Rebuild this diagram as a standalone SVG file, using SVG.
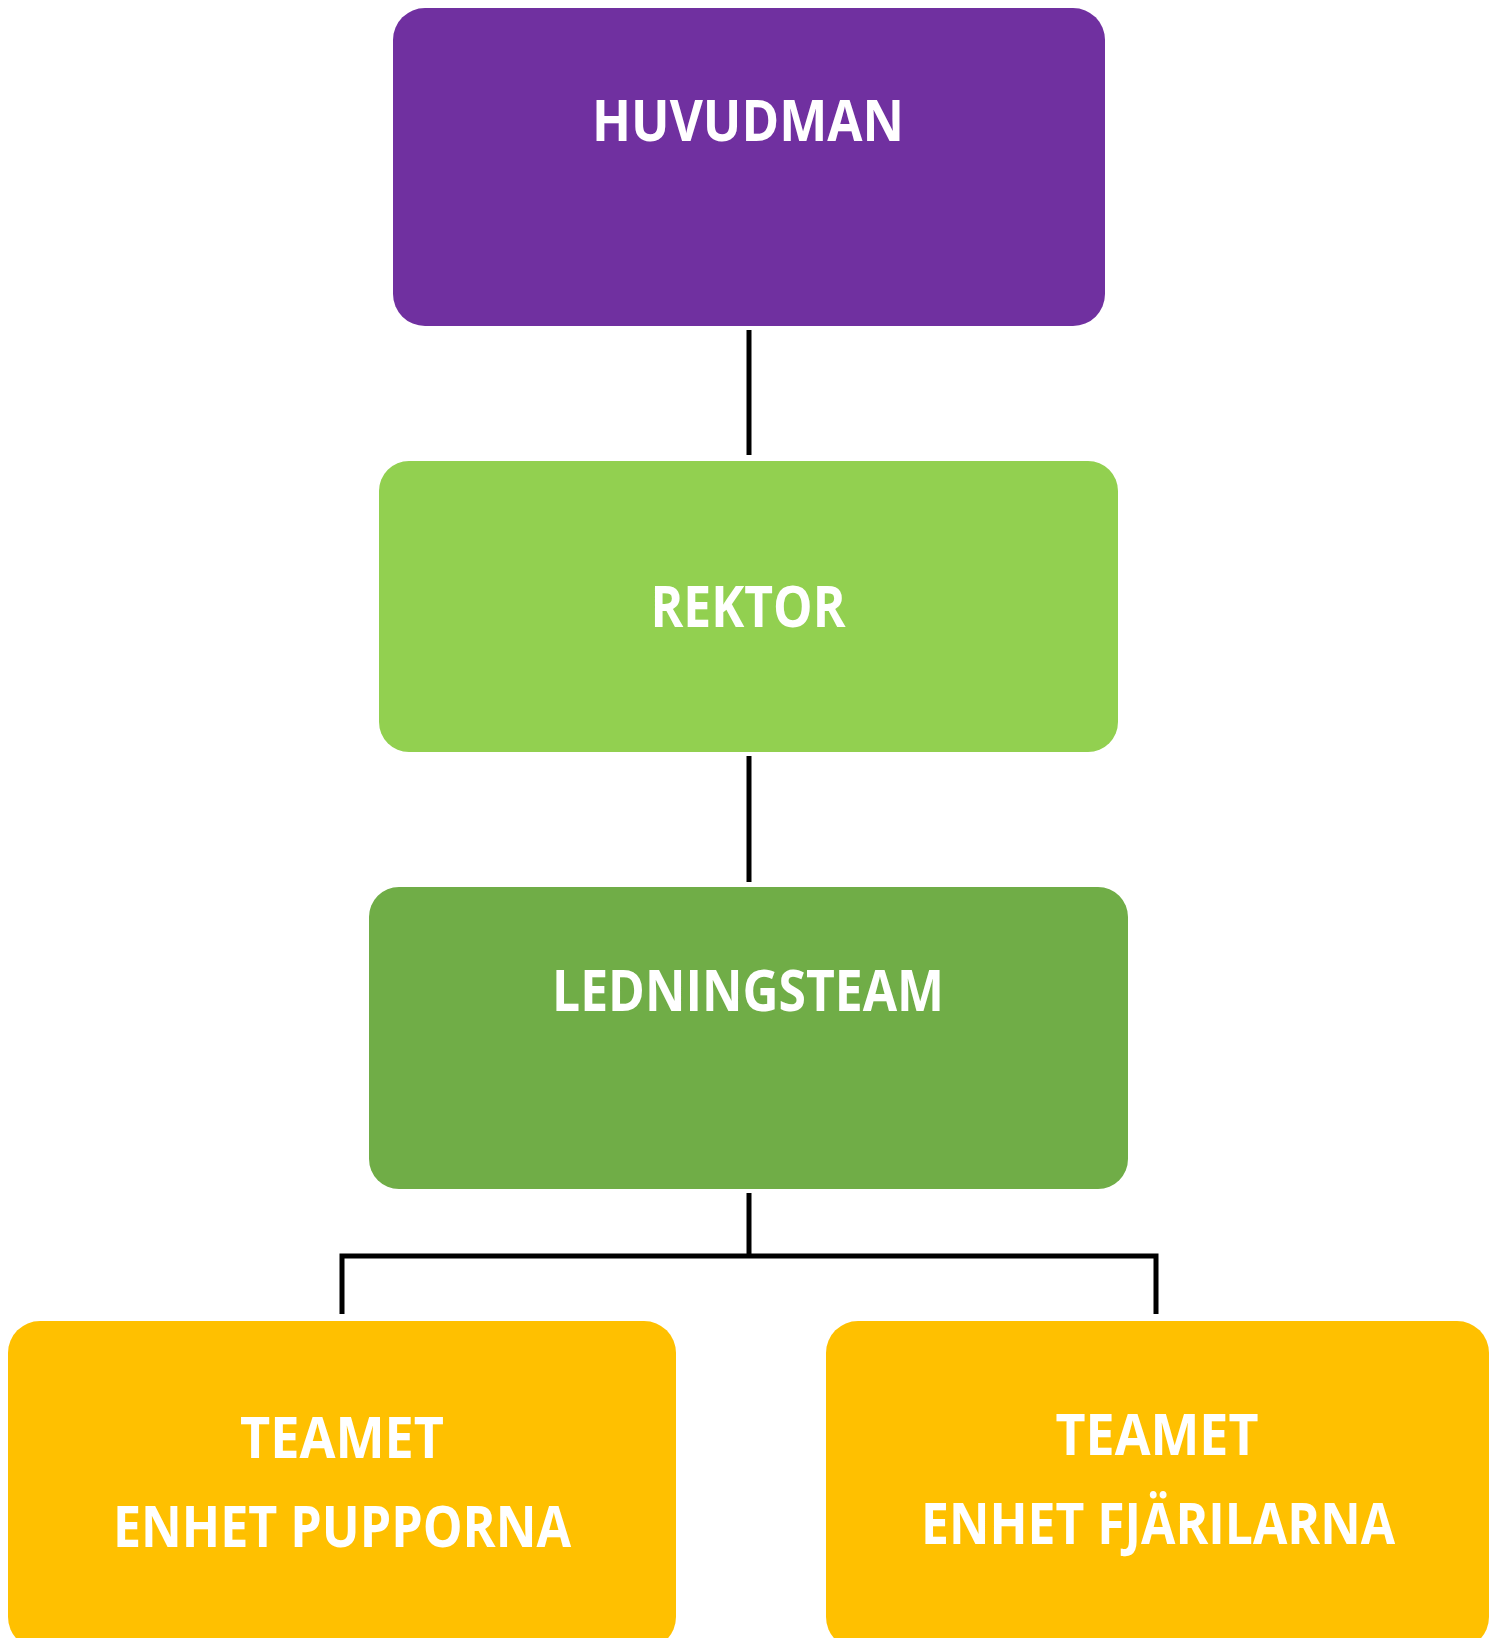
<svg xmlns="http://www.w3.org/2000/svg" width="1499" height="1638" viewBox="0 0 1499 1638">
<style>
.lbl{font-family:"Open Sans","Liberation Sans",sans-serif;font-weight:700;font-size:57px;fill:#ffffff;text-anchor:middle}
.con{stroke:#000000;stroke-width:5;fill:none}
</style>
<rect width="1499" height="1638" fill="#ffffff"/>
<g id="connectors">
<line class="con" x1="749" y1="330" x2="749" y2="455"/>
<line class="con" x1="749" y1="756" x2="749" y2="882"/>
<polyline class="con" points="749,1193 749,1256"/>
<polyline class="con" points="342,1314 342,1256 1156,1256 1156,1314"/>
</g>
<g id="huvudman">
<rect x="393" y="8" width="712" height="318" rx="32" fill="#7030A0"/>
<text class="lbl" x="748" y="141" textLength="312" lengthAdjust="spacingAndGlyphs">HUVUDMAN</text>
</g>
<g id="rektor">
<rect x="379" y="461" width="739" height="291" rx="30" fill="#92D050"/>
<text class="lbl" x="748" y="627" textLength="195" lengthAdjust="spacingAndGlyphs">REKTOR</text>
</g>
<g id="ledningsteam">
<rect x="369" y="887" width="759" height="302" rx="30" fill="#70AD47"/>
<text class="lbl" x="748" y="1011" textLength="392" lengthAdjust="spacingAndGlyphs">LEDNINGSTEAM</text>
</g>
<g id="pupporna">
<rect x="8" y="1321" width="668" height="328" rx="32" fill="#FFC000"/>
<text class="lbl" x="342" y="1458" textLength="204" lengthAdjust="spacingAndGlyphs">TEAMET</text>
<text class="lbl" x="342" y="1547" textLength="458" lengthAdjust="spacingAndGlyphs">ENHET PUPPORNA</text>
</g>
<g id="fjarilarna">
<rect x="826" y="1321" width="663" height="328" rx="32" fill="#FFC000"/>
<text class="lbl" x="1157" y="1455" textLength="203" lengthAdjust="spacingAndGlyphs">TEAMET</text>
<text class="lbl" x="1158" y="1544" textLength="474" lengthAdjust="spacingAndGlyphs">ENHET FJÄRILARNA</text>
</g>
</svg>
